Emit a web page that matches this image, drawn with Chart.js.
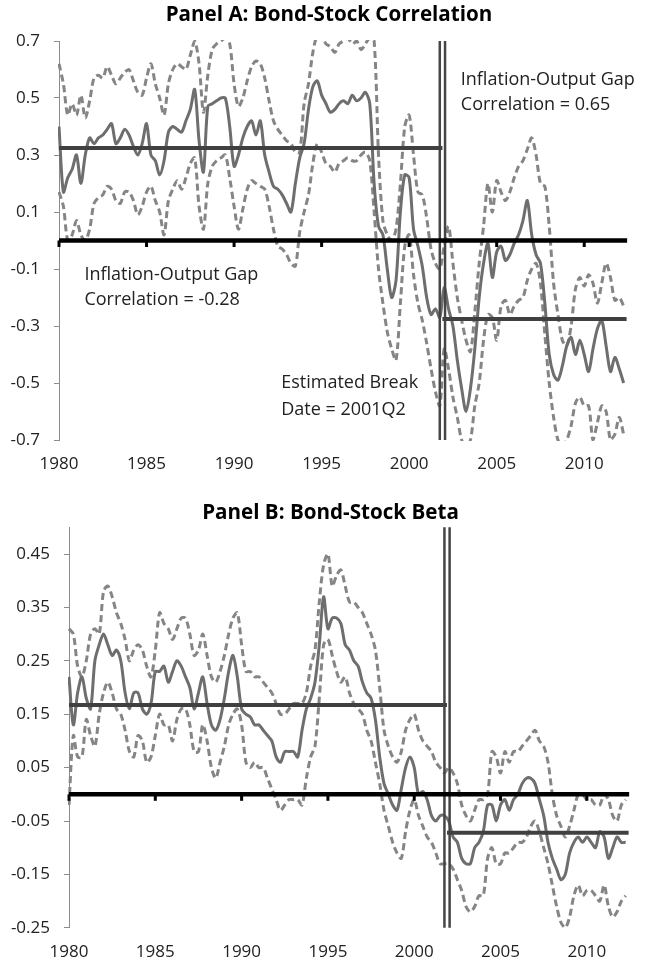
<!DOCTYPE html>
<html><head><meta charset="utf-8">
<script src="https://cdn.jsdelivr.net/npm/chart.js@4.4.1/dist/chart.umd.min.js"></script>
<style>
html,body{margin:0;padding:0;background:#fff;}
#wrap{position:relative;width:645px;height:966px;overflow:hidden;}
#cA{position:absolute;left:0;top:0;}
#cB{position:absolute;left:0;top:478px;}
</style></head><body>
<div id="wrap"><canvas id="cA" width="645" height="478"></canvas><canvas id="cB" width="645" height="488"></canvas></div>
<script>
// ---------- DATA ----------
const titleA = 'Panel A: Bond-Stock Correlation';
const titleB = 'Panel B: Bond-Stock Beta';
const startYear = 1980, quarterCount = 130;
const quarters = [];
for (let i = 0; i < quarterCount; i++) quarters.push(startYear + i * 0.25);

const yearTicks = [1980, 1985, 1990, 1995, 2000, 2005, 2010];
const yTicksA = [0.7, 0.5, 0.3, 0.1, -0.1, -0.3, -0.5, -0.7];
const yTicksB = [0.45, 0.35, 0.25, 0.15, 0.05, -0.05, -0.15, -0.25];

// Panel A: bond-stock correlation (estimate, upper band, lower band), quarterly 1980Q1-2012Q2
const corrA = [
 0.40, 0.17, 0.22, 0.25, 0.30, 0.20, 0.30, 0.36,
 0.34, 0.36, 0.37, 0.39, 0.41, 0.34, 0.36, 0.39,
 0.37, 0.33, 0.30, 0.34, 0.41, 0.30, 0.28, 0.23,
 0.28, 0.38, 0.40, 0.39, 0.38, 0.42, 0.46, 0.53,
 0.35, 0.24, 0.47, 0.48, 0.49, 0.50, 0.50, 0.40,
 0.26, 0.30, 0.36, 0.40, 0.42, 0.37, 0.42, 0.30,
 0.24, 0.19, 0.18, 0.16, 0.13, 0.10, 0.20, 0.29,
 0.34, 0.46, 0.54, 0.56, 0.51, 0.48, 0.45, 0.46,
 0.48, 0.49, 0.48, 0.51, 0.49, 0.50, 0.52, 0.48,
 0.20, 0.05, 0.02, -0.10, -0.20, -0.14, 0.10, 0.23,
 0.22, 0.04, -0.02, -0.09, -0.20, -0.26, -0.24, -0.27,
 -0.165, -0.24, -0.30, -0.42, -0.52, -0.60, -0.52, -0.38,
 -0.20, -0.08, -0.01, -0.13, -0.04, -0.02, -0.07, -0.05,
 -0.01, 0.02, 0.07, 0.14, 0.02, -0.05, -0.08, -0.22,
 -0.40, -0.47, -0.49, -0.44, -0.37, -0.34, -0.40, -0.35,
 -0.40, -0.46, -0.38, -0.31, -0.28, -0.37, -0.46, -0.41,
 -0.45, -0.50
];
const corrAUpper = [
 0.62, 0.55, 0.44, 0.48, 0.44, 0.51, 0.43, 0.49,
 0.57, 0.58, 0.57, 0.61, 0.58, 0.55, 0.57, 0.59,
 0.60, 0.56, 0.52, 0.51, 0.57, 0.62, 0.55, 0.50,
 0.44, 0.55, 0.60, 0.62, 0.61, 0.60, 0.65, 0.70,
 0.62, 0.45, 0.58, 0.67, 0.69, 0.70, 0.71, 0.69,
 0.55, 0.47, 0.50, 0.56, 0.61, 0.63, 0.62, 0.57,
 0.49, 0.42, 0.39, 0.37, 0.35, 0.34, 0.31, 0.31,
 0.48, 0.55, 0.66, 0.72, 0.72, 0.69, 0.68, 0.66,
 0.69, 0.70, 0.71, 0.69, 0.70, 0.67, 0.69, 0.71,
 0.70, 0.30, 0.07, 0.02, 0.00, 0.04, 0.20, 0.40,
 0.44, 0.30, 0.17, 0.16, 0.08, -0.03, -0.08, -0.10,
 -0.02, 0.05, -0.08, -0.20, -0.28, -0.35, -0.39, -0.25,
 -0.08, 0.05, 0.20, 0.10, 0.21, 0.17, 0.14, 0.17,
 0.22, 0.26, 0.28, 0.32, 0.36, 0.30, 0.20, 0.19,
 0.05, -0.15, -0.26, -0.35, -0.37, -0.30, -0.17, -0.13,
 -0.16, -0.12, -0.15, -0.22, -0.15, -0.08, -0.13, -0.21,
 -0.20, -0.23
];
const corrALower = [
 0.17, 0.12, 0.00, 0.02, 0.07, 0.02, 0.00, 0.04,
 0.13, 0.15, 0.16, 0.19, 0.18, 0.14, 0.13, 0.17,
 0.17, 0.14, 0.09, 0.12, 0.17, 0.19, 0.14, 0.10,
 0.02, 0.14, 0.18, 0.21, 0.18, 0.22, 0.27, 0.29,
 0.12, 0.04, 0.20, 0.26, 0.28, 0.29, 0.30, 0.22,
 0.12, 0.04, 0.11, 0.18, 0.21, 0.20, 0.19, 0.18,
 0.12, 0.04, -0.02, -0.03, -0.05, -0.08, -0.09, 0.03,
 0.10, 0.16, 0.27, 0.34, 0.31, 0.27, 0.26, 0.24,
 0.27, 0.28, 0.29, 0.28, 0.28, 0.30, 0.31, 0.28,
 0.10, -0.10, -0.22, -0.32, -0.38, -0.42, -0.22, -0.02,
 0.02, -0.12, -0.22, -0.28, -0.36, -0.45, -0.53, -0.58,
 -0.38, -0.45, -0.55, -0.62, -0.70, -0.72, -0.70, -0.58,
 -0.50, -0.35, -0.26, -0.27, -0.35, -0.23, -0.21, -0.26,
 -0.23, -0.21, -0.20, -0.14, -0.10, -0.08, -0.15, -0.33,
 -0.50, -0.62, -0.70, -0.72, -0.70, -0.65, -0.57, -0.55,
 -0.58, -0.58, -0.70, -0.64, -0.58, -0.60, -0.70, -0.68,
 -0.62, -0.68
];
const meansA = [0.325, -0.275];   // pre-break, post-break

// Panel B: bond-stock beta (estimate, upper band, lower band)
const betaB = [
 0.22, 0.13, 0.19, 0.22, 0.18, 0.16, 0.25, 0.28,
 0.30, 0.28, 0.26, 0.27, 0.25, 0.19, 0.16, 0.19,
 0.19, 0.16, 0.15, 0.17, 0.23, 0.23, 0.24, 0.21,
 0.23, 0.25, 0.24, 0.22, 0.20, 0.16, 0.19, 0.22,
 0.17, 0.13, 0.12, 0.14, 0.18, 0.23, 0.26, 0.22,
 0.16, 0.15, 0.145, 0.13, 0.13, 0.12, 0.11, 0.10,
 0.07, 0.06, 0.08, 0.08, 0.08, 0.07, 0.12, 0.16,
 0.18, 0.21, 0.28, 0.37, 0.31, 0.33, 0.33, 0.32,
 0.28, 0.27, 0.25, 0.24, 0.21, 0.19, 0.18, 0.14,
 0.07, 0.02, 0.00, -0.02, -0.03, 0.01, 0.05, 0.07,
 0.05, 0.00, 0.005, -0.01, -0.04, -0.05, -0.04, -0.04,
 -0.05, -0.08, -0.09, -0.12, -0.13, -0.13, -0.10, -0.09,
 -0.07, -0.02, -0.02, -0.05, -0.02, -0.01, -0.03, -0.01,
 0.00, 0.02, 0.03, 0.03, 0.02, -0.01, -0.04, -0.09,
 -0.12, -0.14, -0.16, -0.15, -0.11, -0.09, -0.08, -0.09,
 -0.08, -0.09, -0.10, -0.07, -0.08, -0.12, -0.10, -0.08,
 -0.09, -0.09
];
const betaBUpper = [
 0.31, 0.30, 0.24, 0.22, 0.25, 0.30, 0.31, 0.30,
 0.38, 0.39, 0.37, 0.34, 0.32, 0.29, 0.25, 0.27,
 0.28, 0.27, 0.24, 0.22, 0.27, 0.34, 0.32, 0.31,
 0.29, 0.31, 0.33, 0.33, 0.30, 0.26, 0.27, 0.30,
 0.26, 0.22, 0.21, 0.23, 0.26, 0.30, 0.33, 0.34,
 0.28, 0.23, 0.23, 0.22, 0.22, 0.21, 0.20, 0.19,
 0.17, 0.15, 0.15, 0.16, 0.17, 0.17, 0.17, 0.19,
 0.24, 0.27, 0.36, 0.43, 0.45, 0.39, 0.41, 0.42,
 0.39, 0.36, 0.36, 0.35, 0.34, 0.32, 0.30, 0.27,
 0.20, 0.12, 0.09, 0.07, 0.06, 0.08, 0.12, 0.14,
 0.15, 0.12, 0.10, 0.09, 0.08, 0.06, 0.05, 0.04,
 0.05, 0.04, 0.02, -0.02, -0.04, -0.05, -0.03, -0.01,
 -0.01, 0.00, 0.08, 0.07, 0.04, 0.08, 0.06, 0.08,
 0.08, 0.09, 0.10, 0.11, 0.12, 0.10, 0.09, 0.06,
 0.00, -0.04, -0.06, -0.08, -0.06, -0.03, 0.00, 0.00,
 -0.01, -0.01, -0.02, -0.02, 0.00, -0.01, -0.04, -0.05,
 -0.02, -0.01
];
const betaBLower = [
 -0.02, 0.11, 0.07, 0.07, 0.14, 0.11, 0.09, 0.15,
 0.19, 0.21, 0.19, 0.16, 0.15, 0.12, 0.08, 0.07,
 0.11, 0.10, 0.06, 0.07, 0.11, 0.15, 0.13, 0.13,
 0.10, 0.14, 0.16, 0.16, 0.13, 0.08, 0.08, 0.13,
 0.10, 0.05, 0.03, 0.06, 0.09, 0.13, 0.15, 0.16,
 0.13, 0.06, 0.05, 0.06, 0.05, 0.05, 0.03, 0.01,
 -0.01, -0.03, -0.02, -0.01, -0.01, -0.01, -0.02, 0.03,
 0.07, 0.09, 0.18, 0.28, 0.29, 0.26, 0.23, 0.21,
 0.22, 0.19, 0.17, 0.16, 0.15, 0.12, 0.10, 0.06,
 0.02, -0.03, -0.06, -0.09, -0.11, -0.12, -0.07, -0.03,
 -0.01, -0.04, -0.06, -0.08, -0.09, -0.11, -0.13, -0.13,
 -0.13, -0.14, -0.16, -0.18, -0.21, -0.22, -0.21, -0.19,
 -0.19, -0.12, -0.10, -0.13, -0.13, -0.11, -0.11, -0.10,
 -0.09, -0.09, -0.08, -0.06, -0.05, -0.07, -0.10, -0.13,
 -0.17, -0.21, -0.24, -0.25, -0.23, -0.19, -0.17, -0.19,
 -0.18, -0.18, -0.19, -0.20, -0.17, -0.21, -0.23, -0.22,
 -0.20, -0.19
];
const meansB = [0.167, -0.072];

const breakDates = [2001.75, 2002.05];   // double vertical break marker
const meanSplit = 2001.9;
const lineEnd = 2012.42;

const notesTextA = ['Inflation-Output Gap', 'Correlation = 0.65',
                    'Inflation-Output Gap', 'Correlation = -0.28',
                    'Estimated Break', 'Date = 2001Q2'];

// ---------- RENDER ----------
const FONT = "'Open Sans', 'Noto Sans', sans-serif";
const C_SOLID = '#6e6e6e', C_DASH = '#858585', C_MEAN = '#404040', C_VL = '#454545';

function pts(vals) { return vals.map((v, i) => ({ x: quarters[i], y: v })); }

function buildDatasets(est, up, lo, means, yMin, yMax) {
  return [
    { data: [{x: startYear, y: 0}, {x: lineEnd + 0.03, y: 0}], borderColor: '#000', borderWidth: 4.5, order: 0, tension: 0 },
    { data: [{x: startYear, y: means[0]}, {x: meanSplit, y: means[0]}], borderColor: C_MEAN, borderWidth: 4, order: 1, tension: 0 },
    { data: [{x: meanSplit, y: means[1]}, {x: lineEnd, y: means[1]}], borderColor: C_MEAN, borderWidth: 4, order: 1, tension: 0 },
    { data: [{x: breakDates[0], y: yMin}, {x: breakDates[0], y: yMax}], borderColor: C_VL, borderWidth: 2.5, order: 1, tension: 0 },
    { data: [{x: breakDates[1], y: yMin}, {x: breakDates[1], y: yMax}], borderColor: C_VL, borderWidth: 2.5, order: 1, tension: 0 },
    { data: pts(est), borderColor: C_SOLID, borderWidth: 3, order: 2, tension: 0.3 },
    { data: pts(up), borderColor: C_DASH, borderWidth: 3, borderDash: [7, 4], order: 3, tension: 0.3 },
    { data: pts(lo), borderColor: C_DASH, borderWidth: 3, borderDash: [7, 4], order: 3, tension: 0.3 }
  ];
}

const decor = {
  id: 'decor',
  afterDatasetsDraw(chart, args, opts) {
    const ctx = chart.ctx, x = chart.scales.x, y = chart.scales.y;
    ctx.save();
    const y0 = y.getPixelForValue(0);
    ctx.strokeStyle = '#000'; ctx.lineWidth = 3;
    yearTicks.forEach(t => {
      const px = x.getPixelForValue(t);
      ctx.beginPath(); ctx.moveTo(px, y0); ctx.lineTo(px, y0 + 6.5); ctx.stroke();
    });
    ctx.fillStyle = '#222'; ctx.font = opts.noteFont; ctx.textBaseline = 'middle'; ctx.textAlign = 'left';
    (opts.notes || []).forEach(n => ctx.fillText(n.text, x.getPixelForValue(n.x), y.getPixelForValue(n.y)));
    ctx.fillStyle = '#000'; ctx.font = opts.titleFont; ctx.textAlign = 'center';
    ctx.fillText(opts.title, opts.titleX, opts.titleY);
    ctx.restore();
  }
};

function makeChart(id, cfg) {
  return new Chart(document.getElementById(id), {
    type: 'line',
    data: { datasets: cfg.datasets },
    plugins: [decor],
    options: {
      responsive: false, animation: false, devicePixelRatio: 1,
      layout: { padding: cfg.padding },
      elements: { point: { radius: 0, hoverRadius: 0 }, line: { borderCapStyle: 'butt', fill: false } },
      datasets: { line: { clip: 1 } },
      plugins: {
        legend: { display: false }, tooltip: { enabled: false }, title: { display: false },
        decor: { title: cfg.title, titleX: cfg.titleX, titleY: cfg.titleY,
                 titleFont: "bold 20.6px " + FONT, noteFont: "18px " + FONT, notes: cfg.notes }
      },
      scales: {
        x: {
          type: 'linear', min: 1980, max: 2012.5, position: 'bottom',
          afterBuildTicks: s => { s.ticks = yearTicks.map(v => ({ value: v })); },
          afterFit: s => { s.height = 38; },
          border: { display: false }, grid: { display: false, drawTicks: false },
          ticks: { padding: 14, color: '#222', maxRotation: 0, autoSkip: false,
                   font: { family: FONT, size: 17 }, callback: v => String(v) }
        },
        y: {
          type: 'linear', min: cfg.yMin, max: cfg.yMax,
          afterBuildTicks: s => { s.ticks = cfg.yTicks.map(v => ({ value: v })); },
          afterFit: s => { s.width = cfg.yWidth; },
          border: { display: true, color: '#8c8c8c', width: 1 },
          grid: { display: true, drawOnChartArea: false, drawTicks: true, tickLength: 5, color: '#8c8c8c', lineWidth: 1 },
          ticks: { padding: 14, color: '#222', font: { family: FONT, size: 17 },
                   callback: v => v.toFixed(cfg.decimals) }
        }
      }
    }
  });
}

makeChart('cA', {
  datasets: buildDatasets(corrA, corrAUpper, corrALower, meansA, -0.7, 0.7),
  padding: { top: 41, left: 0, right: 17, bottom: 0 },
  yMin: -0.7, yMax: 0.7, yTicks: yTicksA, yWidth: 59, decimals: 1,
  title: titleA, titleX: 329, titleY: 15,
  notes: [
    { text: notesTextA[0], x: 2002.95, y: 0.563 },
    { text: notesTextA[1], x: 2002.95, y: 0.475 },
    { text: notesTextA[2], x: 1981.45, y: -0.121 },
    { text: notesTextA[3], x: 1981.45, y: -0.209 },
    { text: notesTextA[4], x: 1992.69, y: -0.50 },
    { text: notesTextA[5], x: 1992.69, y: -0.595 }
  ]
});

makeChart('cB', {
  datasets: buildDatasets(betaB, betaBUpper, betaBLower, meansB, -0.25, 0.5),
  padding: { top: 49.3, left: 0, right: 15, bottom: 0.2 },
  yMin: -0.25, yMax: 0.5, yTicks: yTicksB, yWidth: 69, decimals: 2,
  title: titleB, titleX: 330.5, titleY: 35,
  notes: []
});
</script>
</body></html>
